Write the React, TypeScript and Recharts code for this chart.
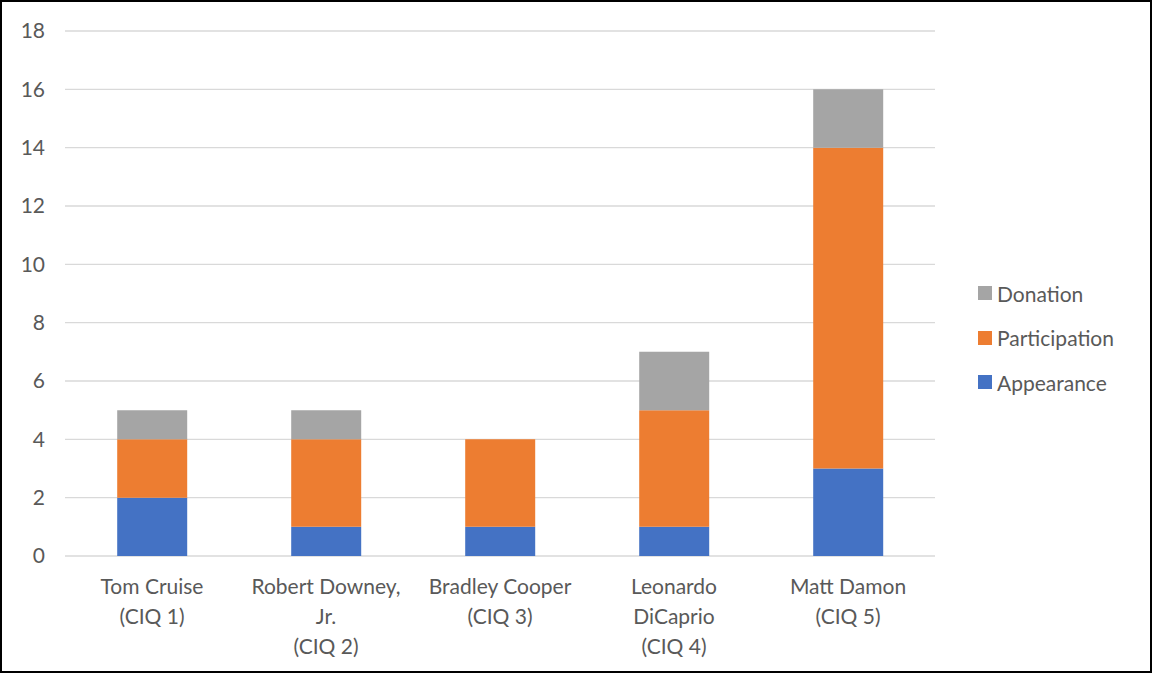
import { BarChart, Bar, XAxis, YAxis, CartesianGrid, Legend } from 'recharts'

const categories = [
  'Tom Cruise (CIQ 1)',
  'Robert Downey, Jr. (CIQ 2)',
  'Bradley Cooper (CIQ 3)',
  'Leonardo DiCaprio (CIQ 4)',
  'Matt Damon (CIQ 5)',
]
const tickLines = [
  ['Tom Cruise', '(CIQ 1)'],
  ['Robert Downey,', 'Jr.', '(CIQ 2)'],
  ['Bradley Cooper', '(CIQ 3)'],
  ['Leonardo', 'DiCaprio', '(CIQ 4)'],
  ['Matt Damon', '(CIQ 5)'],
]
const appearance = [2, 1, 1, 1, 3]
const participation = [2, 3, 3, 4, 11]
const donation = [1, 1, 0, 2, 2]
const yTicks = [0, 2, 4, 6, 8, 10, 12, 14, 16, 18]

const series = [
  { key: 'Appearance', color: '#4472C4' },
  { key: 'Participation', color: '#ED7D31' },
  { key: 'Donation', color: '#A5A5A5' },
]

const FONT = 'Lato, "Open Sans", sans-serif'
const TEXT = '#595959'

const data = categories.map((name, i) => ({
  name,
  Appearance: appearance[i],
  Participation: participation[i],
  Donation: donation[i],
}))

function CategoryTick(props: any) {
  const { x, y, payload } = props
  const lines = tickLines[categories.indexOf(payload.value)] || [payload.value]
  return (
    <text x={x} y={y} textAnchor="middle" fill={TEXT} fontSize={21} fontFamily={FONT}>
      {lines.map((line, i) => (
        <tspan key={i} x={x} dy={i === 0 ? 32 : 30}>
          {line}
        </tspan>
      ))}
    </text>
  )
}

function LegendBox() {
  // stacked series are listed top-down in reverse order
  const items = [...series].reverse()
  return (
    <div style={{ fontFamily: FONT, fontSize: 21, color: TEXT }}>
      {items.map((s) => (
        <div key={s.key} style={{ display: 'flex', alignItems: 'center', height: 44.5 }}>
          <span style={{ width: 14, height: 14, background: s.color, marginRight: 5, display: 'inline-block' }} />
          <span>{s.key}</span>
        </div>
      ))}
    </div>
  )
}

export default function App() {
  return (
    <div
      style={{
        position: 'absolute',
        left: 0,
        top: 0,
        width: 1152,
        height: 673,
        border: '2px solid #000',
        boxSizing: 'border-box',
        background: '#fff',
      }}
    >
      <BarChart
        width={1148}
        height={669}
        data={data}
        margin={{ top: 29, right: 215, bottom: 0, left: 0 }}
        barCategoryGap="30%"
      >
        <CartesianGrid vertical={false} stroke="#D9D9D9" strokeWidth={1.3} />
        <XAxis
          dataKey="name"
          axisLine={false}
          tickLine={false}
          tickMargin={0}
          height={115}
          interval={0}
          tick={<CategoryTick />}
        />
        <YAxis
          domain={[0, 18]}
          ticks={yTicks}
          axisLine={false}
          tickLine={false}
          width={63}
          tickMargin={14}
          tick={{ fill: TEXT, fontSize: 21, fontFamily: FONT }}
        />
        <Legend
          layout="vertical"
          align="center"
          verticalAlign="middle"
          content={<LegendBox />}
          wrapperStyle={{ left: 976, top: 269, width: 172 }}
        />
        {series.map((s) => (
          <Bar key={s.key} dataKey={s.key} stackId="a" fill={s.color} isAnimationActive={false} />
        ))}
      </BarChart>
    </div>
  )
}
